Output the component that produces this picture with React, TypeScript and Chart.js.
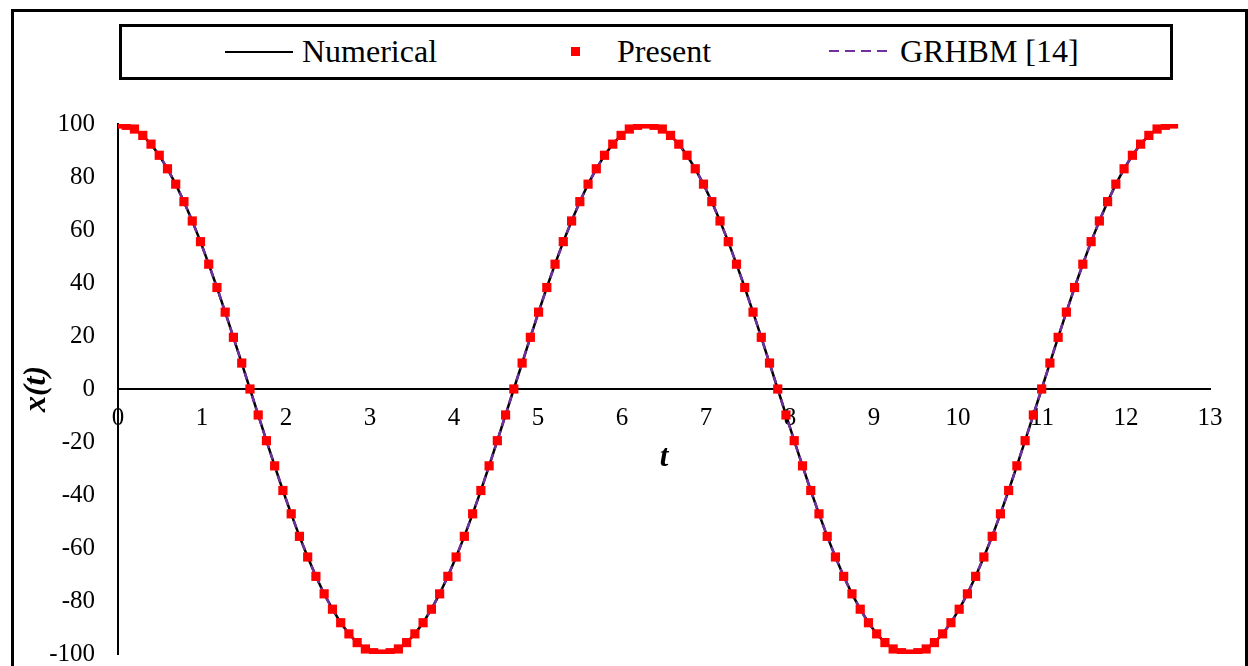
import React, { useEffect, useRef } from "react";
import { Chart, registerables } from "chart.js";

Chart.register(...registerables);

// time values t (0 .. 4π, 129 samples)
const tValues = [
  0, 0.098, 0.196, 0.295, 0.393, 0.491, 0.589, 0.687, 0.785, 0.884, 0.982, 1.08, 1.178, 1.276, 1.374, 1.473,
  1.571, 1.669, 1.767, 1.865, 1.963, 2.062, 2.16, 2.258, 2.356, 2.454, 2.553, 2.651, 2.749, 2.847, 2.945, 3.043,
  3.142, 3.24, 3.338, 3.436, 3.534, 3.632, 3.731, 3.829, 3.927, 4.025, 4.123, 4.222, 4.32, 4.418, 4.516, 4.614,
  4.712, 4.811, 4.909, 5.007, 5.105, 5.203, 5.301, 5.4, 5.498, 5.596, 5.694, 5.792, 5.89, 5.989, 6.087, 6.185,
  6.283, 6.381, 6.48, 6.578, 6.676, 6.774, 6.872, 6.97, 7.069, 7.167, 7.265, 7.363, 7.461, 7.56, 7.658, 7.756,
  7.854, 7.952, 8.05, 8.149, 8.247, 8.345, 8.443, 8.541, 8.639, 8.738, 8.836, 8.934, 9.032, 9.13, 9.228, 9.327,
  9.425, 9.523, 9.621, 9.719, 9.817, 9.916, 10.014, 10.112, 10.21, 10.308, 10.407, 10.505, 10.603, 10.701, 10.799, 10.897,
  10.996, 11.094, 11.192, 11.29, 11.388, 11.486, 11.585, 11.683, 11.781, 11.879, 11.977, 12.076, 12.174, 12.272, 12.37, 12.468,
  12.566,
];

// x(t) values (numerical, present and GRHBM coincide)
const xValues = [
  100, 99.5, 98.1, 95.7, 92.4, 88.2, 83.1, 77.3, 70.7, 63.4, 55.6, 47.1, 38.3, 29.0, 19.5, 9.8,
  0, -9.8, -19.5, -29.0, -38.3, -47.1, -55.6, -63.4, -70.7, -77.3, -83.1, -88.2, -92.4, -95.7, -98.1, -99.5,
  -100, -99.5, -98.1, -95.7, -92.4, -88.2, -83.1, -77.3, -70.7, -63.4, -55.6, -47.1, -38.3, -29.0, -19.5, -9.8,
  0, 9.8, 19.5, 29.0, 38.3, 47.1, 55.6, 63.4, 70.7, 77.3, 83.1, 88.2, 92.4, 95.7, 98.1, 99.5,
  100, 99.5, 98.1, 95.7, 92.4, 88.2, 83.1, 77.3, 70.7, 63.4, 55.6, 47.1, 38.3, 29.0, 19.5, 9.8,
  0, -9.8, -19.5, -29.0, -38.3, -47.1, -55.6, -63.4, -70.7, -77.3, -83.1, -88.2, -92.4, -95.7, -98.1, -99.5,
  -100, -99.5, -98.1, -95.7, -92.4, -88.2, -83.1, -77.3, -70.7, -63.4, -55.6, -47.1, -38.3, -29.0, -19.5, -9.8,
  0, 9.8, 19.5, 29.0, 38.3, 47.1, 55.6, 63.4, 70.7, 77.3, 83.1, 88.2, 92.4, 95.7, 98.1, 99.5,
  100,
];

const seriesLabels = ["Numerical", "Present", "GRHBM [14]"];
const xAxisTitle = "t";
const yAxisTitle = "x(t)";

const FONT = "'Liberation Serif', 'Times New Roman', serif";
const CANVAS_H = 692;

export default function App() {
  const canvasRef = useRef<HTMLCanvasElement | null>(null);

  useEffect(() => {
    const canvas = canvasRef.current;
    if (!canvas) return;
    const pts = tValues.map((t, i) => ({ x: t, y: xValues[i] }));
    Chart.defaults.font.family = FONT;
    const chart = new Chart(canvas, {
      type: "line",
      data: {
        datasets: [
          {
            label: seriesLabels[0],
            data: pts,
            borderColor: "#000000",
            borderWidth: 2.5,
            pointRadius: 0,
            tension: 0,
            order: 3,
          },
          {
            label: seriesLabels[1],
            data: pts,
            showLine: false,
            pointStyle: "rect",
            pointRadius: 6.5,
            pointBackgroundColor: "#ff0000",
            pointBorderColor: "#ff0000",
            pointBorderWidth: 0,
            backgroundColor: "#ff0000",
            borderColor: "#ff0000",
            order: 1,
          },
          {
            label: seriesLabels[2],
            data: pts,
            borderColor: "#7030a0",
            borderWidth: 2.5,
            borderDash: [7, 5],
            pointRadius: 0,
            tension: 0,
            order: 2,
          },
        ],
      },
      options: {
        animation: false,
        responsive: false,
        maintainAspectRatio: false,
        events: [],
        layout: { padding: { left: 0, top: 124, right: 38, bottom: 0 } },
        plugins: { legend: { display: false }, tooltip: { enabled: false } },
        scales: {
          x: {
            type: "linear",
            position: { y: 0 } as any,
            min: 0,
            max: 13,
            ticks: {
              stepSize: 1,
              color: "#000",
              font: { size: 25, family: FONT },
              padding: 14,
              maxRotation: 0,
              autoSkip: false,
            },
            grid: { display: false, drawTicks: false },
            border: { display: true, color: "#000", width: 2 },
            title: {
              display: true,
              text: xAxisTitle,
              color: "#000",
              font: { size: 31, weight: "bold", style: "italic", family: FONT },
              padding: { top: 0, bottom: 12 },
            },
            afterFit: (s: any) => {
              s.height = 100;
            },
          },
          y: {
            type: "linear",
            position: "left",
            min: -100,
            max: 100,
            ticks: {
              stepSize: 20,
              color: "#000",
              font: { size: 25, family: FONT },
              padding: 23,
            },
            grid: { display: false, drawTicks: false },
            border: { display: true, color: "#000", width: 2 },
            title: {
              display: true,
              text: yAxisTitle,
              color: "#000",
              font: { size: 32, weight: "bold", style: "italic", family: FONT },
              padding: { top: 18, bottom: 0 },
            },
            afterFit: (s: any) => {
              s.width = 118;
            },
          },
        },
      },
    } as any);
    return () => chart.destroy();
  }, []);

  const textStyle: React.CSSProperties = {
    position: "absolute",
    top: 35,
    fontFamily: FONT,
    fontSize: 32,
    lineHeight: "32px",
    color: "#000",
    whiteSpace: "nowrap",
  };

  return (
    <div style={{ position: "fixed", left: 0, top: 0, width: 1248, height: CANVAS_H, background: "#fff" }}>
      <canvas ref={canvasRef} width={1248} height={CANVAS_H} style={{ position: "absolute", left: 0, top: 0 }} />
      <div
        style={{
          position: "absolute",
          left: 11,
          top: 9,
          width: 1237,
          height: 740,
          border: "3px solid #000",
          boxSizing: "border-box",
          pointerEvents: "none",
        }}
      />
      <div
        style={{
          position: "absolute",
          left: 119,
          top: 24,
          width: 1054,
          height: 56,
          border: "3px solid #000",
          boxSizing: "border-box",
          background: "#fff",
        }}
      />
      <div style={{ position: "absolute", left: 225, top: 51, width: 68, height: 2, background: "#000" }} />
      <span style={{ ...textStyle, left: 302 }}>{seriesLabels[0]}</span>
      <div style={{ position: "absolute", left: 571, top: 47, width: 9, height: 9, background: "#ff0000" }} />
      <span style={{ ...textStyle, left: 617 }}>{seriesLabels[1]}</span>
      <svg style={{ position: "absolute", left: 829, top: 46 }} width={62} height={10}>
        <line x1={0} y1={5} x2={62} y2={5} stroke="#7030a0" strokeWidth={2} strokeDasharray="10 6" />
      </svg>
      <span style={{ ...textStyle, left: 900 }}>{seriesLabels[2]}</span>
    </div>
  );
}
